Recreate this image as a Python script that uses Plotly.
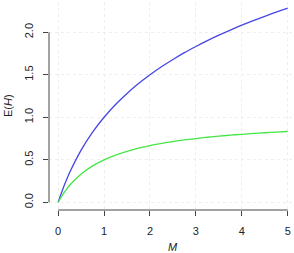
import plotly.graph_objects as go

# Values
M = [0, 0.05, 0.1, 0.15, 0.25, 0.5, 0.75, 1.0, 1.25, 1.5, 1.75, 2.0, 2.25, 2.5,
     2.75, 3.0, 3.25, 3.5, 3.75, 4.0, 4.25, 4.5, 4.75, 5.0]
EH_blue = [0, 0.079, 0.153, 0.223, 0.350, 0.614, 0.825, 1.000, 1.150, 1.280,
           1.396, 1.500, 1.594, 1.680, 1.760, 1.833, 1.902, 1.966, 2.026,
           2.083, 2.137, 2.188, 2.237, 2.283]
EH_green = [0, 0.048, 0.091, 0.130, 0.200, 0.333, 0.429, 0.500, 0.556, 0.600,
            0.636, 0.667, 0.692, 0.714, 0.733, 0.750, 0.765, 0.778, 0.790,
            0.800, 0.810, 0.818, 0.826, 0.833]
x_ticks = [0, 1, 2, 3, 4, 5]
y_ticks = [0.0, 0.5, 1.0, 1.5, 2.0]
y_tick_labels = ["0.0", "0.5", "1.0", "1.5", "2.0"]

font = "Liberation Sans, Arial, Helvetica, sans-serif"
axis_col = "#444444"
grid_col = "#eeeeee"

fig = go.Figure()
fig.add_trace(go.Scatter(x=M, y=EH_blue, mode="lines", line=dict(color="#4646E6", width=1.3, shape="spline"),
                         showlegend=False, hoverinfo="skip"))
fig.add_trace(go.Scatter(x=M, y=EH_green, mode="lines", line=dict(color="#46E646", width=1.3, shape="spline"),
                         showlegend=False, hoverinfo="skip"))

fig.update_layout(
    width=294, height=253,
    margin=dict(l=49, r=0, t=2, b=43),
    paper_bgcolor="white", plot_bgcolor="white",
    font=dict(family=font, size=11, color="#222222"),
    xaxis=dict(range=[-0.2, 5.137], tickvals=x_ticks, ticktext=[str(v) for v in x_ticks],
               ticks="outside", ticklen=5, tickcolor=axis_col, tickwidth=1,
               ticklabelstandoff=6,
               showline=False, zeroline=False,
               showgrid=True, gridcolor=grid_col, griddash="dot", gridwidth=1),
    yaxis=dict(range=[-0.0906, 2.356], tickvals=y_ticks, ticktext=y_tick_labels,
               tickangle=-90, ticks="outside", ticklen=5, tickcolor=axis_col, tickwidth=1,
               ticklabelstandoff=6,
               showline=False, zeroline=False,
               showgrid=True, gridcolor=grid_col, griddash="dot", gridwidth=1),
    shapes=[
        dict(type="line", xref="x", yref="paper", x0=x_ticks[0], x1=x_ticks[-1], y0=0, y1=0,
             line=dict(color=axis_col, width=1)),
        dict(type="line", xref="paper", yref="y", x0=0, x1=0, y0=y_ticks[0], y1=y_ticks[-1],
             line=dict(color=axis_col, width=1)),
    ],
    annotations=[
        dict(text="<i>M</i>", xref="x", yref="paper", x=2.5, y=0, yshift=-37,
             showarrow=False, font=dict(size=11), yanchor="middle"),
        dict(text="E(<i>H</i>)", xref="paper", yref="paper", x=0, y=0.5, xshift=-41,
             showarrow=False, textangle=-90, font=dict(size=11), xanchor="center"),
    ],
)

fig.write_html("out.html")
